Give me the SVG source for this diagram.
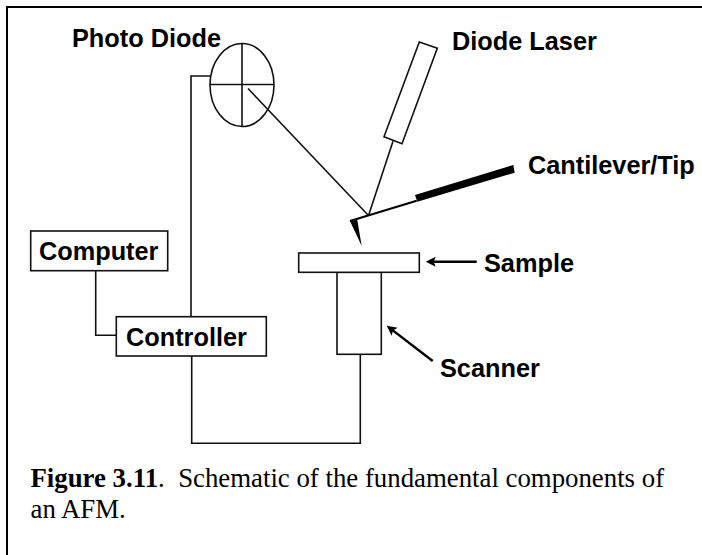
<svg xmlns="http://www.w3.org/2000/svg" width="702" height="555" viewBox="0 0 702 555">
<defs>
<marker id="arr" markerUnits="userSpaceOnUse" markerWidth="11" markerHeight="11" refX="6" refY="5" orient="auto"><path d="M0,0 L10,5 L0,10 L2,5 Z" fill="#000"/></marker>
</defs>
<style>
.s{fill:#fff;stroke:#111;stroke-width:1.6}
.l{fill:none;stroke:#111;stroke-width:1.6}
.a{fill:none;stroke:#000;stroke-width:2.400}
.b{font-family:"Liberation Sans",Arial,sans-serif;font-weight:bold;font-size:25.300px;fill:#000}
.c{font-family:"Liberation Serif","Times New Roman",serif;font-size:26.800px;fill:#000}
</style>
<rect x="0" y="0" width="702" height="555" fill="#fff"/>
<path id="border" d="M7,555 V7 H702" fill="none" stroke="#000" stroke-width="2"/>
<g id="connectors">
<path class="l" d="M191,317 V76 H210"/>
<path class="l" d="M191.700,356 V443.300 H360.300 V354"/>
<path class="l" d="M95.700,270.700 V335.300 H116.300"/>
<path class="l" d="M248,88.500 L368,215"/>
<path class="l" d="M393,141.300 L368.700,215"/>
<path class="a" d="M476.700,261.700 H429.700" marker-end="url(#arr)"/>
<path class="a" d="M432.700,361 L389.900,328.100" marker-end="url(#arr)"/>
</g>
<g id="photo-diode">
<ellipse class="l" cx="242" cy="85" rx="32" ry="41.500"/>
<path class="l" d="M242,43.500 V126.500 M210,84.500 H274"/>
<text class="b" x="72" y="47">Photo Diode</text>
</g>
<g id="diode-laser">
<path class="s" d="M419.300,42 L437.300,48.300 L402,143.700 L384,136.700 Z"/>
<text class="b" x="452" y="50">Diode Laser</text>
</g>
<g id="cantilever">
<path d="M350,221 L416.700,200.700" fill="none" stroke="#000" stroke-width="2"/>
<path d="M415,195 L513.300,165 L514.700,172.700 L417.300,201.700 Z" fill="#000"/>
<path d="M350,221 L357.300,220 L361.700,246 Z" fill="#000"/>
<text class="b" x="528" y="174">Cantilever/Tip</text>
</g>
<g id="scanner">
<rect class="s" x="337" y="272.300" width="44.300" height="82"/>
<text class="b" x="440" y="377">Scanner</text>
</g>
<g id="sample">
<rect class="s" x="298.700" y="253" width="120.600" height="19.300"/>
<text class="b" x="484" y="272">Sample</text>
</g>
<g id="computer">
<rect class="s" x="30.700" y="231" width="137" height="39.700"/>
<text class="b" x="39" y="260">Computer</text>
</g>
<g id="controller">
<rect class="s" x="116.300" y="316.700" width="150" height="39.300"/>
<text class="b" x="126" y="346">Controller</text>
</g>
<text class="c" x="30.500" y="487" xml:space="preserve"><tspan font-weight="bold">Figure 3.11</tspan>.  Schematic of the fundamental components of</text>
<text class="c" x="30.500" y="518">an AFM.</text>
</svg>
